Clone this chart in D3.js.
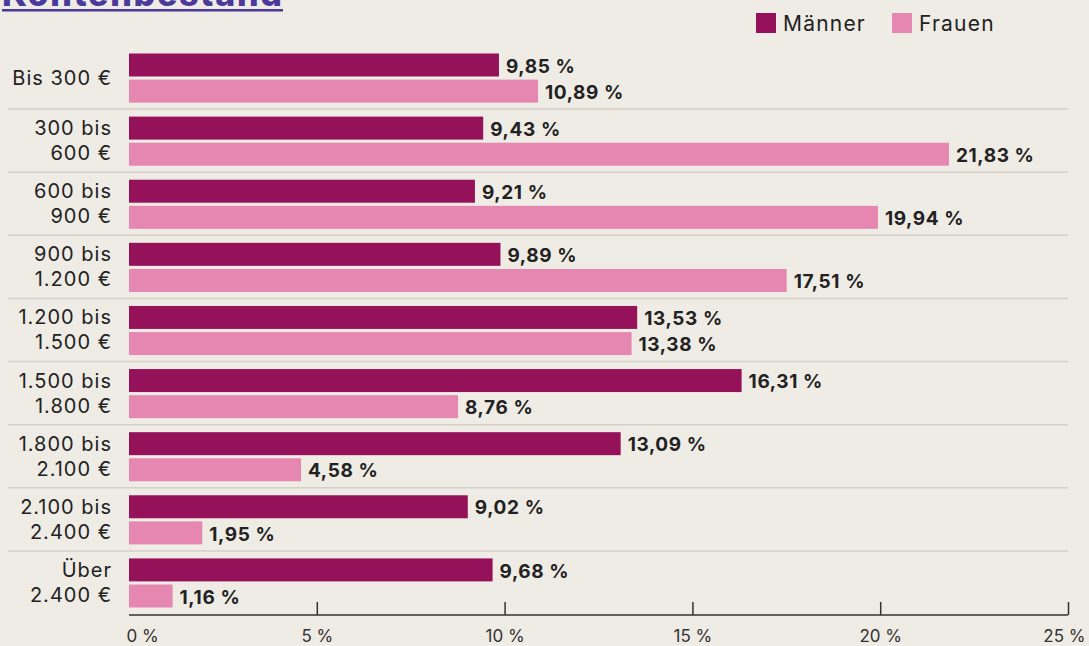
<!DOCTYPE html>
<html>
<head>
<meta charset="utf-8">
<script src="https://cdn.jsdelivr.net/npm/d3@7"></script>
<style>
  body { margin:0; background:#efebe5; }
  svg { display:block; }
  text { font-family: Inter, "Open Sans", sans-serif; }
</style>
</head>
<body>
<div id="canvas"></div>
<script>
// data
var categories = [['Bis 300 €'], ['300 bis', '600 €'], ['600 bis', '900 €'], ['900 bis', '1.200 €'],
    ['1.200 bis', '1.500 €'], ['1.500 bis', '1.800 €'], ['1.800 bis', '2.100 €'], ['2.100 bis', '2.400 €'],
    ['Über', '2.400 €']];
var maenner = [9.85, 9.43, 9.21, 9.89, 13.53, 16.31, 13.09, 9.02, 9.68];
var frauen = [10.89, 21.83, 19.94, 17.51, 13.38, 8.76, 4.58, 1.95, 1.16];
var ticks = [0, 5, 10, 15, 20, 25];
var seriesNames = ['Männer', 'Frauen'];
var colors = ['#95125a', '#e587b1'];

var W = 1089, H = 646;

var svg = d3.select('#canvas').append('svg')
    .attr('width', W).attr('height', H);

svg.append('rect').attr('width', W).attr('height', H).attr('fill', '#efebe5');

// title, mostly cut off at the top
svg.append('text')
    .attr('x', 2).attr('y', 6)
    .style('font-size', '34px').style('font-weight', 800)
    .attr('fill', '#4a3a9b')
    .attr('textLength', 280)
    .text('Kontenbestand');
svg.append('rect').attr('x', 2).attr('y', 9).attr('width', 281).attr('height', 2.5).attr('fill', '#4a3a9b');

// legend
var legX = [756, 892];
seriesNames.forEach(function(n, i){
    svg.append('rect').attr('x', legX[i]).attr('y', 13).attr('width', 20).attr('height', 20).attr('fill', colors[i]);
    svg.append('text').attr('x', legX[i] + 27).attr('y', 24).attr('dy', '0.35em')
        .style('font-size', '21px').style('letter-spacing', '1.2px')
        .attr('fill', '#222').text(n);
});

var x = d3.scaleLinear().domain([0, 25]).range([129, 1068]);
var y = d3.scaleBand().domain(d3.range(categories.length)).range([46, 614]);
var sub = d3.scaleBand().domain([0, 1]).range([7.5, y.bandwidth() - 6.5]).paddingInner(0.12);

var fmt = function(v){ return d3.format('.2f')(v).replace('.', ',') + ' %'; };

var rows = svg.append('g').selectAll('g.row')
    .data(categories)
    .enter().append('g').attr('class', 'row')
    .attr('transform', function(d, i){ return 'translate(0,' + y(i) + ')'; });

// separators between rows
rows.filter(function(d, i){ return i > 0; })
    .append('line')
    .attr('x1', 8).attr('x2', 1068).attr('y1', 0).attr('y2', 0)
    .attr('stroke', '#d5cfc8').attr('stroke-width', 1.5);

// category labels
rows.append('text')
    .attr('text-anchor', 'end')
    .style('font-size', '20px').style('letter-spacing', '1px')
    .attr('fill', '#222')
    .each(function(d){
        var t = d3.select(this);
        var c = y.bandwidth() / 2;
        d.forEach(function(line, j){
            t.append('tspan').attr('x', 112)
                .attr('y', c + (j - (d.length - 1) / 2) * 25)
                .attr('dy', '0.35em').text(line);
        });
    });

[maenner, frauen].forEach(function(series, s){
    rows.append('rect')
        .attr('x', x(0))
        .attr('y', sub(s))
        .attr('height', sub.bandwidth())
        .attr('width', function(d, i){ return x(series[i]) - x(0); })
        .attr('fill', colors[s]);
    rows.append('text')
        .attr('x', function(d, i){ return x(series[i]) + 7; })
        .attr('y', sub(s) + sub.bandwidth() / 2 + 1)
        .attr('dy', '0.35em')
        .style('font-size', '19px').style('font-weight', 700)
        .style('letter-spacing', '0.6px')
        .attr('fill', '#222')
        .text(function(d, i){ return fmt(series[i]); });
});

// x axis
var axis = svg.append('g').attr('transform', 'translate(0,615)')
    .call(d3.axisBottom(x).tickValues(ticks).tickSize(-13).tickPadding(16)
        .tickFormat(function(d){ return d + ' %'; }));
axis.select('.domain').attr('stroke', '#333').attr('stroke-width', 1.5).attr('d', 'M' + x(0) + ',0H' + x(25));
axis.selectAll('.tick line').attr('stroke', '#333').attr('stroke-width', 1.5);
axis.selectAll('.tick line').filter(function(d){ return d === 0; }).remove();
axis.selectAll('.tick text').attr('fill', '#333').style('font-size', '17px')
    .style('font-family', 'Inter, sans-serif').attr('dy', '0.71em').attr('y', 15);
// first and last labels pulled inside the plot edges
axis.selectAll('.tick text').filter(function(d){ return d === 0; })
    .attr('text-anchor', 'start').attr('x', -3);
axis.selectAll('.tick text').filter(function(d){ return d === 25; })
    .attr('text-anchor', 'end').attr('x', 17);
</script>
</body>
</html>
